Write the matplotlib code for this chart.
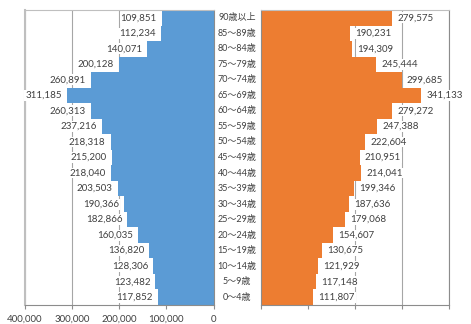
import matplotlib
matplotlib.use("Agg")
import matplotlib.pyplot as plt
from matplotlib.ticker import FuncFormatter
from matplotlib.transforms import offset_copy

plt.rcParams['font.family'] = ['Lato', 'Noto Sans CJK JP', 'DejaVu Sans']

ages = ["90歳以上", "85～89歳", "80～84歳", "75～79歳", "70～74歳", "65～69歳",
        "60～64歳", "55～59歳", "50～54歳", "45～49歳", "40～44歳", "35～39歳",
        "30～34歳", "25～29歳", "20～24歳", "15～19歳", "10～14歳", "5～9歳", "0～4歳"]
male = [109851, 112234, 140071, 200128, 260891, 311185, 260313, 237216, 218318,
        215200, 218040, 203503, 190366, 182866, 160035, 136820, 128306, 123482, 117852]
female = [279575, 190231, 194309, 245444, 299685, 341133, 279272, 247388, 222604,
          210951, 214041, 199346, 187636, 179068, 154607, 130675, 121929, 117148, 111807]
ticks = [0, 100000, 200000, 300000, 400000]

BLUE = "#5B9BD5"
ORANGE = "#ED7D31"
GRID = "#A6A6A6"
AXIS = "#8C8C8C"
TXT = "#404040"

W, H = 471, 324
fig = plt.figure(figsize=(W / 100, H / 100), dpi=100)
axL = fig.add_axes([25 / W, 19 / H, 188.5 / W, 295 / H])
axR = fig.add_axes([260.5 / W, 19 / H, 188.5 / W, 295 / H])

n = len(ages)
ypos = list(range(n - 1, -1, -1))

for ax, vals, col, side in ((axL, male, BLUE, 'L'), (axR, female, ORANGE, 'R')):
    ax.set_axisbelow(True)
    ax.barh(ypos, vals, height=1.0, color=col, zorder=2)
    ax.set_ylim(-0.5, n - 0.5)
    ax.set_xticks(ticks)
    ax.set_yticks([])
    ax.grid(axis='x', color=GRID, linewidth=0.8, zorder=0)
    ax.tick_params(axis='x', direction='out', length=3, color=AXIS, width=0.8,
                   labelsize=7, labelcolor=TXT, pad=4)
    for s in ax.spines.values():
        s.set_color(AXIS)
        s.set_linewidth(0.8)
    ax.spines['top'].set_color("#BFBFBF")
    if side == 'L':
        ax.set_xlim(400000, 0)
        ax.spines['left'].set_color("#BFBFBF")
        ax.spines['left'].set_linewidth(1.5)
        ax.xaxis.set_major_formatter(FuncFormatter(lambda v, p: f"{int(v):,}"))
        tr = offset_copy(ax.transData, fig=fig, x=-5, y=0, units='dots')
        for y, v in zip(ypos, vals):
            ax.text(v, y, f"{v:,}", transform=tr, ha='right', va='center',
                    fontsize=7, color=TXT, zorder=3,
                    bbox=dict(boxstyle='square,pad=0.1', fc='white', ec='none'))
    else:
        ax.set_xlim(0, 400000)
        ax.set_xticklabels([])
        tr = offset_copy(ax.transData, fig=fig, x=5, y=0, units='dots')
        for y, v in zip(ypos, vals):
            ax.text(v, y, f"{v:,}", transform=tr, ha='left', va='center',
                    fontsize=7, color=TXT, zorder=3,
                    bbox=dict(boxstyle='square,pad=0.1', fc='white', ec='none'))

# age labels in the middle
for y, a in zip(ypos, ages):
    disp = axL.transData.transform((0, y))
    fy = fig.transFigure.inverted().transform(disp)[1]
    fig.text(237 / W, fy, a, ha='center', va='center', fontsize=6.5, color=TXT)

fig.savefig("out.png", dpi=100)
